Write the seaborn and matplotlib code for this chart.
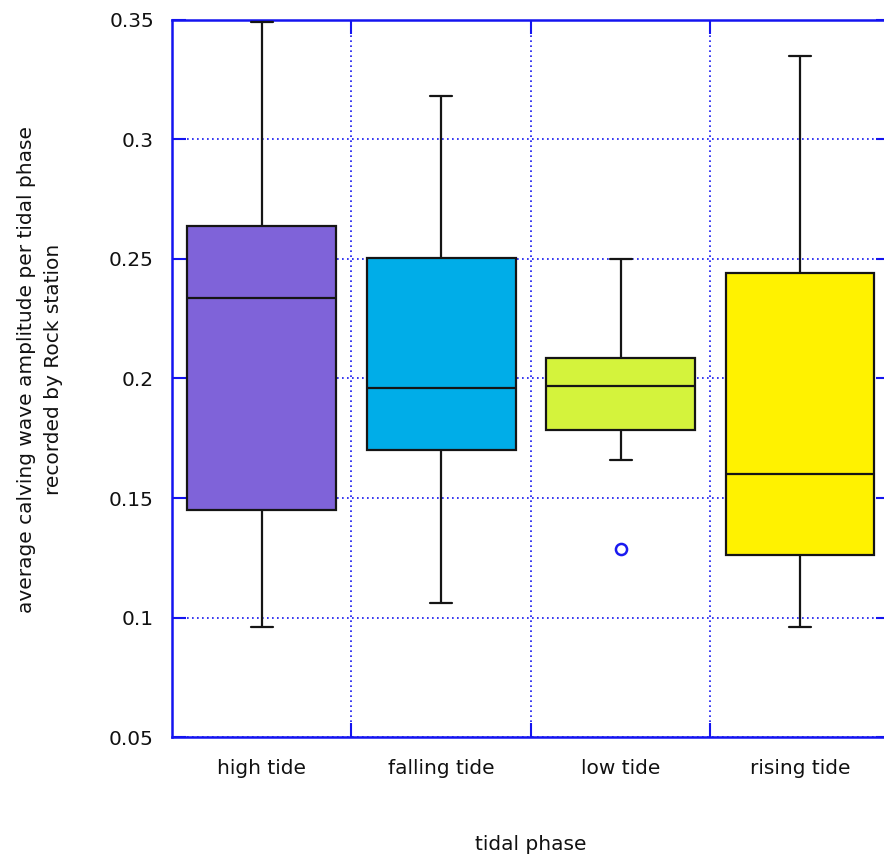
import matplotlib
matplotlib.use("Agg")
import matplotlib.pyplot as plt
import seaborn as sns
import pandas as pd
from matplotlib.ticker import FixedLocator

# Box statistics per tidal phase
categories = ["high tide", "falling tide", "low tide", "rising tide"]
whisker_low = [0.096, 0.106, 0.166, 0.096]
q1 = [0.145, 0.170, 0.1785, 0.126]
median = [0.2335, 0.196, 0.197, 0.160]
q3 = [0.264, 0.2505, 0.2085, 0.244]
whisker_high = [0.349, 0.318, 0.250, 0.335]
outliers = [[], [], [0.1285], []]
colors = ["#7F63D9", "#00ADE8", "#D4F33C", "#FFF200"]

yticks = [0.05, 0.10, 0.15, 0.20, 0.25, 0.30, 0.35]
ytick_labels = ["0.05", "0.1", "0.15", "0.2", "0.25", "0.3", "0.35"]


def sample_for(lo, a, m, b, hi, outs):
    """Build a sample whose quartiles/whiskers reproduce the given summary."""
    low_out = sorted(v for v in outs if v < a)
    high_out = sorted(v for v in outs if v > b)
    k = max(len(low_out), len(high_out)) + 1
    lower = low_out + [lo] * (k - len(low_out))
    upper = [hi] * (k - len(high_out)) + high_out
    return lower + [a] + [m] * (2 * k - 1) + [b] + upper


rows = []
for i, cat in enumerate(categories):
    for v in sample_for(whisker_low[i], q1[i], median[i], q3[i],
                        whisker_high[i], outliers[i]):
        rows.append({"tidal phase": cat, "amplitude": v})
df = pd.DataFrame(rows)

sns.set_style("white")
plt.rcParams["font.family"] = ["DejaVu Sans"]

fig = plt.figure(figsize=(8.84, 8.61), dpi=100)
ax = fig.add_axes([0.1945, 0.144, 0.812, 0.8328])

axis_blue = "#1414F0"

sns.boxplot(
    data=df, x="tidal phase", y="amplitude", hue="tidal phase",
    order=categories, hue_order=categories, palette=colors,
    width=0.83, linewidth=1.6, linecolor="#151515", dodge=False,
    legend=False, ax=ax, saturation=1,
    capwidths=0.123,
    flierprops=dict(marker="o", markerfacecolor="none",
                    markeredgecolor="#1A1AF0", markeredgewidth=1.8,
                    markersize=8),
    zorder=3,
)

ax.set_xlim(-0.5, 3.5)
ax.set_ylim(0.05, 0.35)

ax.set_yticks(yticks)
ax.set_yticklabels(ytick_labels, fontsize=14.5, color="#111111")
ax.set_xticks(range(len(categories)))
ax.set_xticklabels(categories, fontsize=14.5, color="#111111")
ax.xaxis.set_minor_locator(FixedLocator([0.5, 1.5, 2.5]))

ax.tick_params(axis="x", which="major", length=0, pad=16)
ax.tick_params(axis="x", which="minor", direction="in", length=10,
               width=1.5, color=axis_blue, top=True, bottom=True)
ax.tick_params(axis="y", which="major", direction="in", length=10,
               width=1.5, color=axis_blue, left=True, right=True, pad=13)

ax.grid(False)
ax.yaxis.grid(True, which="major", linestyle=(0, (1, 2)), color=axis_blue,
              linewidth=1.2, zorder=0)
ax.xaxis.grid(True, which="minor", linestyle=(0, (1, 2)), color=axis_blue,
              linewidth=1.2, zorder=0)
ax.set_axisbelow(True)

for name, sp in ax.spines.items():
    sp.set_color(axis_blue)
    sp.set_linewidth(1.8)
    sp.set_visible(name != "right")

ax.set_ylabel("average calving wave amplitude per tidal phase\nrecorded by Rock station",
              fontsize=14.5, color="#111111", linespacing=1.5)
ax.yaxis.set_label_coords(-0.152, 0.513)
ax.set_xlabel("tidal phase", fontsize=14.5, color="#111111")
ax.xaxis.set_label_coords(0.5, -0.136)

fig.savefig("out.png", dpi=100)
